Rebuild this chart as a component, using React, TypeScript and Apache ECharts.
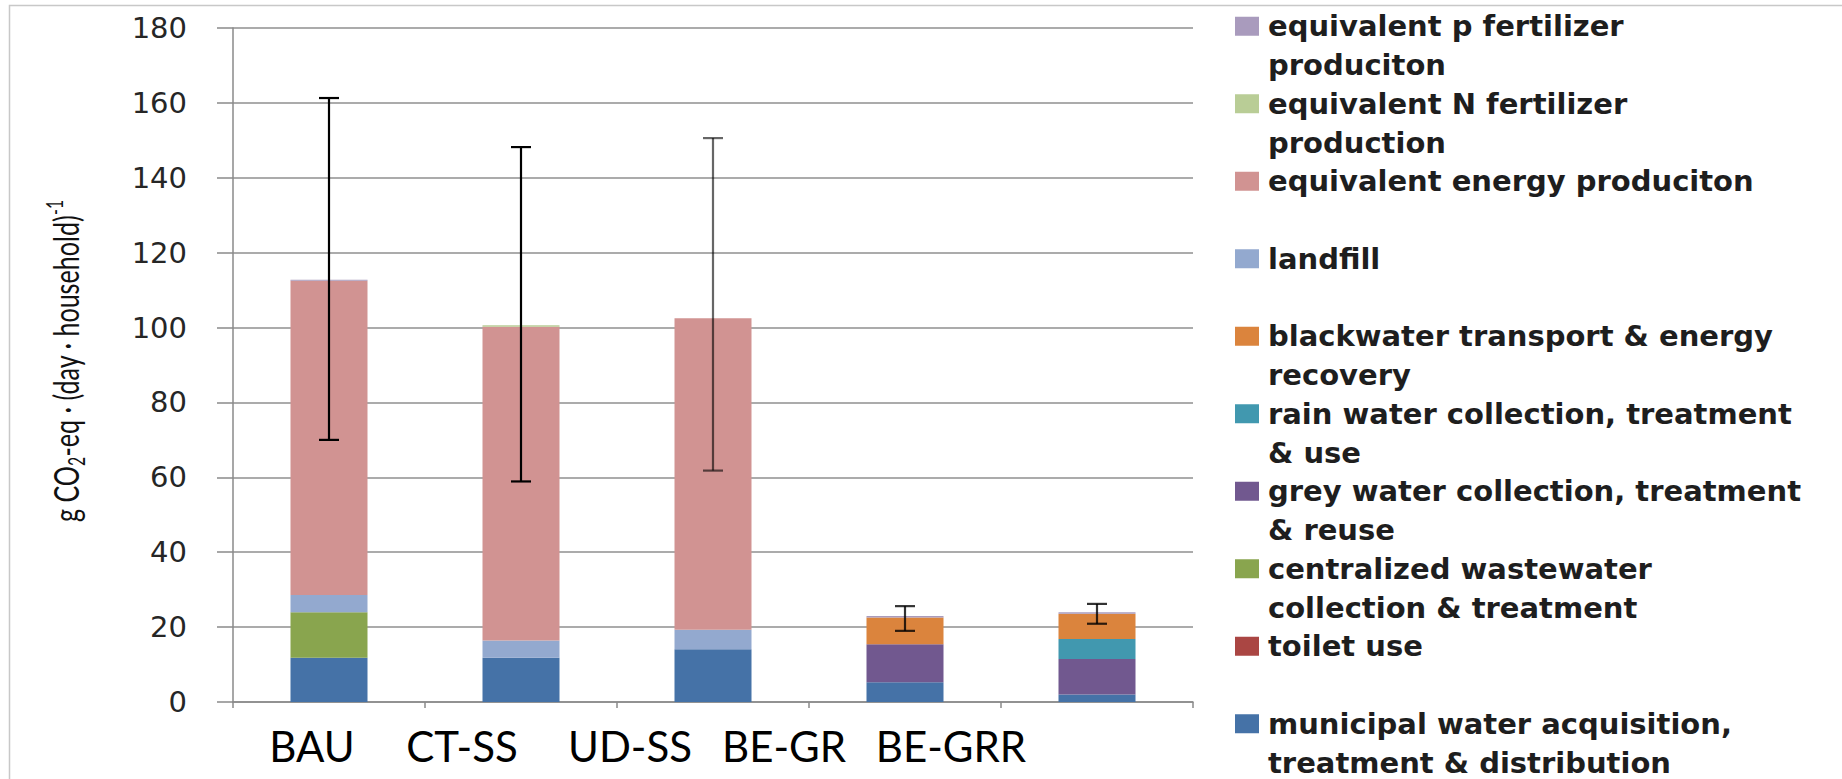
import React, { useEffect, useRef } from "react";
import * as echarts from "echarts";

const categories = ["BAU", "CT-SS", "UD-SS", "BE-GR", "BE-GRR"];

const seriesNames = [
  "municipal water acquisition, treatment & distribution",
  "toilet use",
  "centralized wastewater collection & treatment",
  "grey water collection, treatment & reuse",
  "rain water collection, treatment & use",
  "blackwater transport & energy recovery",
  "landfill",
  "equivalent energy produciton",
  "equivalent N fertilizer production",
  "equivalent p fertilizer produciton",
];

const legendLines: Record<string, string> = {
  "municipal water acquisition, treatment & distribution": "municipal water acquisition,\ntreatment & distribution",
  "toilet use": "toilet use\n ",
  "centralized wastewater collection & treatment": "centralized wastewater\ncollection & treatment",
  "grey water collection, treatment & reuse": "grey water collection, treatment\n& reuse",
  "rain water collection, treatment & use": "rain water collection, treatment\n& use",
  "blackwater transport & energy recovery": "blackwater transport & energy\nrecovery",
  "landfill": "landfill\n ",
  "equivalent energy produciton": "equivalent energy produciton\n ",
  "equivalent N fertilizer production": "equivalent N fertilizer\nproduction",
  "equivalent p fertilizer produciton": "equivalent p fertilizer\nproduciton",
};

const municipal = [11.8, 11.8, 14.1, 5.3, 2.0];
const toilet = [0, 0, 0, 0, 0];
const centralized = [12.2, 0, 0, 0, 0];
const greyWater = [0, 0, 0, 10.1, 9.5];
const rainWater = [0, 0, 0, 0, 5.3];
const blackwater = [0, 0, 0, 7.2, 6.8];
const landfill = [4.6, 4.6, 5.2, 0, 0];
const energy = [83.9, 83.8, 83.2, 0, 0];
const nFertilizer = [0, 0.4, 0, 0, 0];
const pFertilizer = [0.3, 0, 0, 0.4, 0.4];

const errorLow = [70.0, 58.9, 61.8, 19.0, 20.9];
const errorHigh = [161.3, 148.2, 150.6, 25.6, 26.2];

const yTicks = { min: 0, max: 180, interval: 20 };

const seriesValues = [
  municipal, toilet, centralized, greyWater, rainWater,
  blackwater, landfill, energy, nFertilizer, pFertilizer,
];

const seriesColors = [
  "#4572A7", "#AA4643", "#89A54E", "#71588F", "#4198AF",
  "#DB843D", "#93A9CF", "#D19392", "#B9CD96", "#A99BBD",
];

const errorOpacity = [1, 1, 0.6, 0.8, 0.8];
const labelCenters = [312, 462, 630, 784, 951];

export default function App() {
  const ref = useRef<HTMLDivElement>(null);
  useEffect(() => {
    if (!ref.current) return;
    const chart = echarts.init(ref.current, null, { renderer: "svg" });

    const bars = seriesNames.map((name, i) => ({
      name,
      type: "bar" as const,
      stack: "total",
      barWidth: 77,
      data: seriesValues[i],
      itemStyle: { color: seriesColors[i] },
      emphasis: { disabled: true },
    }));

    const errData = categories.map((_, i) => [i, errorLow[i], errorHigh[i]]);

    const option: any = {
      animation: false,
      backgroundColor: "#ffffff",
      grid: { left: 233, right: 649, top: 28, bottom: 77 },
      xAxis: {
        type: "category",
        data: categories,
        axisLine: { lineStyle: { color: "#8a8a8a", width: 1.5 } },
        axisTick: { show: true, length: 6, lineStyle: { color: "#8a8a8a", width: 1.5 } },
        axisLabel: { show: false },
      },
      yAxis: {
        type: "value",
        min: yTicks.min,
        max: yTicks.max,
        interval: yTicks.interval,
        axisLine: { show: true, lineStyle: { color: "#8a8a8a", width: 1.5 } },
        axisTick: { show: true, length: 16, lineStyle: { color: "#8a8a8a", width: 1.5 } },
        splitLine: { lineStyle: { color: "#8f8f8f", width: 1.5 } },
        axisLabel: {
          margin: 46,
          fontFamily: "DejaVu Sans",
          fontSize: 29,
          color: "#262626",
        },
      },
      legend: {
        orient: "vertical",
        left: 1235,
        top: 7,
        height: 900,
        padding: 0,
        itemGap: 0,
        itemWidth: 28,
        itemHeight: 58,
        icon: "path://M0,0L24,0L24,19L0,19Z M28,58L28,58",
        selectedMode: false,
        data: [...seriesNames].reverse(),
        formatter: (name: string) => legendLines[name] || name,
        textStyle: {
          fontFamily: "DejaVu Sans",
          fontWeight: "bold",
          fontSize: 29,
          lineHeight: 38.75,
          color: "#1e1e1e",
        },
      },
      graphic: [
        {
          type: "rect",
          silent: true,
          shape: { x: 9.5, y: 5.5, width: 1850, height: 800 },
          style: { fill: "none", stroke: "#c8c8c8", lineWidth: 1.5 },
        },
        {
          type: "text",
          x: 65,
          y: 361,
          rotation: Math.PI / 2,
          scaleX: 0.93,
          scaleY: 1.3,
          silent: true,
          style: {
            text: "{a|g CO}{s|2}{a|-eq · (day · household)}{p|-1}",
            align: "center",
            verticalAlign: "middle",
            fill: "#111",
            rich: {
              a: { fontFamily: "Lato", fontSize: 27, lineHeight: 34, fill: "#111" },
              s: { fontFamily: "Lato", fontSize: 17, lineHeight: 14, verticalAlign: "bottom", fill: "#111" },
              p: { fontFamily: "Lato", fontSize: 17, lineHeight: 14, verticalAlign: "top", fill: "#111" },
            },
          },
        },
        ...categories.map((c, i) => ({
          type: "text",
          x: labelCenters[i],
          y: 746,
          silent: true,
          style: {
            text: c,
            align: "center",
            verticalAlign: "middle",
            fontFamily: "Lato",
            fontSize: 42,
            fill: "#000",
          },
        })),
      ],
      series: [
        ...bars,
        {
          type: "custom",
          name: "error",
          data: errData,
          encode: { x: 0, y: [1, 2] },
          z: 10,
          silent: true,
          renderItem: (params: any, api: any) => {
            const idx = api.value(0);
            const lo = api.coord([idx, api.value(1)]);
            const hi = api.coord([idx, api.value(2)]);
            const half = 10;
            const stroke = `rgba(0,0,0,${errorOpacity[params.dataIndex]})`;
            const st = { stroke, lineWidth: 2.2 };
            return {
              type: "group",
              children: [
                { type: "line", shape: { x1: lo[0], y1: hi[1], x2: lo[0], y2: lo[1] }, style: st },
                { type: "line", shape: { x1: lo[0] - half, y1: hi[1], x2: lo[0] + half, y2: hi[1] }, style: st },
                { type: "line", shape: { x1: lo[0] - half, y1: lo[1], x2: lo[0] + half, y2: lo[1] }, style: st },
              ],
            };
          },
        },
      ],
    };

    chart.setOption(option);
    return () => chart.dispose();
  }, []);

  return (
    <div
      ref={ref}
      style={{ position: "fixed", left: 0, top: 0, width: 1842, height: 779 }}
    />
  );
}
